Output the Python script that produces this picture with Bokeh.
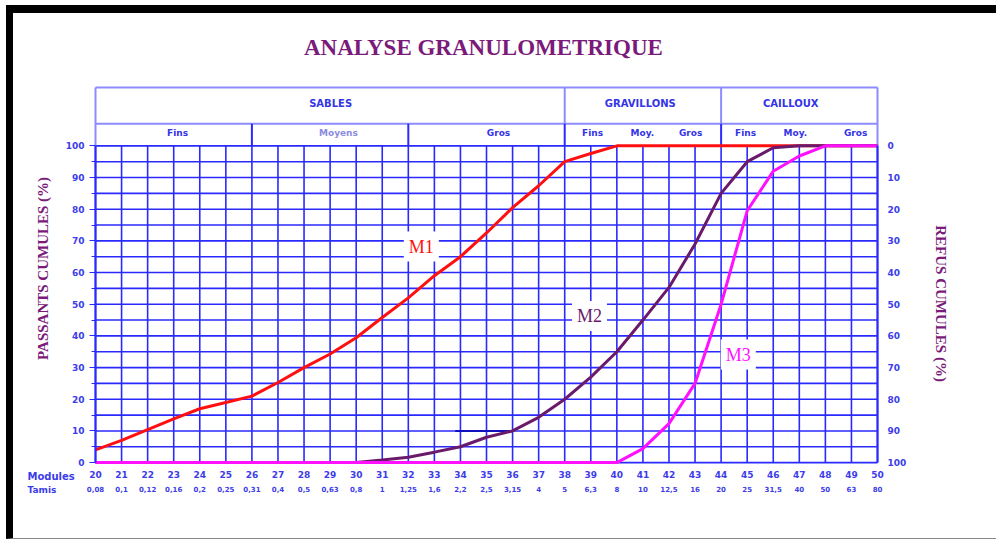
from bokeh.plotting import figure
from bokeh.models import Range1d, LinearAxis, FixedTicker, ColumnDataSource
from bokeh.core.properties import value
from bokeh.embed import file_html
from bokeh.resources import INLINE

# ---------------- data ----------------
modules = list(range(20, 51))
tamis = ["0,08", "0,1", "0,12", "0,16", "0,2", "0,25", "0,31", "0,4", "0,5", "0,63",
         "0,8", "1", "1,25", "1,6", "2,2", "2,5", "3,15", "4", "5", "6,3",
         "8", "10", "12,5", "16", "20", "25", "31,5", "40", "50", "63", "80"]
m1 = [4, 7, 10.4, 13.8, 17, 19, 21, 25.3, 30, 34.3, 39.4, 45.8, 52, 59, 65, 72.5,
      80.5, 87.4, 95, 97.6, 100, 100, 100, 100, 100, 100, 100, 100, 100, 100, 100]
m2 = [0, 0, 0, 0, 0, 0, 0, 0, 0, 0, 0, 0.8, 1.7, 3.3, 5, 8, 10, 14.3, 20, 27, 35,
      45, 55.3, 69, 85, 95, 99.4, 100, 100, 100, 100]
m3 = [0] * 21 + [4.4, 12.3, 25, 50, 79.5, 92, 96.8, 100, 100, 100]
step_x = [33.8, 35.9]
step_y = [10, 10]
curve_names = ["M1", "M2", "M3"]
curve_label_x = [32.5, 38.95, 44.66]
curve_label_y = [68.2, 46.3, 34.1]
passants_ticks = list(range(0, 101, 10))
grid_pct = list(range(0, 101, 5))

# header table
groups = ["SABLES", "GRAVILLONS", "CAILLOUX"]
group_x = [29.02, 40.9, 46.67]
sub_names = ["Fins", "Moyens", "Gros", "Fins", "Moy.", "Gros", "Fins", "Moy.", "Gros"]
sub_x = [23.15, 29.32, 35.46, 39.07, 40.98, 42.83, 44.94, 46.85, 49.16]
sub_colors = ["#3434e6", "#8c8ce0", "#3434e6", "#3434e6", "#3434e6", "#3434e6",
              "#3434e6", "#3434e6", "#3434e6"]
title_text = "ANALYSE GRANULOMETRIQUE"
left_title = "PASSANTS CUMULES (%)"
right_title = "REFUS CUMULES (%)"
row_names = ["Modules", "Tamis"]

BLUE = "#2a2aff"
LBLUE = "#8c8cff"
TXT = "#3c3cea"
PURPLE = "#7a1a7a"

X0, X1 = 16.854, 54.833
Y0, Y1 = -26.80, 141.78
W, H = 990, 534
p = figure(width=W, height=H, output_backend="svg", toolbar_location=None, title=None,
           x_range=Range1d(X0, X1), y_range=Range1d(Y0, Y1),
           min_border_left=0, min_border_right=0, min_border_top=0, min_border_bottom=0)
p.styles = {"margin-left": "6px", "margin-top": "5px",
            "border-top": "8px solid black", "border-left": "7px solid black",
            "border-bottom": "1px solid #888888"}
p.outline_line_color = None
p.background_fill_color = "white"
p.border_fill_color = "white"
p.xgrid.visible = False
p.ygrid.visible = False

def style_labels(ax, size="9px"):
    ax.major_label_text_font = "DejaVu Sans"
    ax.major_label_text_font_style = "bold"
    ax.major_label_text_font_size = size
    ax.major_label_text_color = TXT

# grid of the chart (0-100 %, modules 20-50)
p.segment(x0=modules, y0=0, x1=modules, y1=100, line_color=BLUE, line_width=1.6)
p.segment(x0=20, y0=grid_pct, x1=50, y1=grid_pct, line_color=BLUE, line_width=1.6)

# left axis
ya = p.yaxis[0]
ya.fixed_location = 20
ya.ticker = FixedTicker(ticks=passants_ticks, minor_ticks=list(range(5, 100, 10)))
ya.bounds = (0, 100)
ya.axis_line_color = BLUE
ya.axis_line_width = 2
ya.major_tick_line_color = BLUE
ya.minor_tick_line_color = BLUE
ya.major_tick_out = 6
ya.major_tick_in = 0
ya.minor_tick_out = 4
ya.minor_tick_in = 0
ya.major_label_standoff = 5
style_labels(ya)

# right axis (refus cumules = 100 - passants)
p.extra_y_ranges = {"refus": Range1d(start=100 - Y0, end=100 - Y1)}
ra = LinearAxis(y_range_name="refus", ticker=FixedTicker(ticks=passants_ticks),
                fixed_location=50)
ra.bounds = (0, 100)
ra.axis_line_color = BLUE
ra.axis_line_width = 2
ra.major_tick_out = 0
ra.major_tick_in = 0
ra.minor_tick_line_color = None
ra.major_label_standoff = 10
style_labels(ra)
p.add_layout(ra, "right")

# bottom axes: modules and tamis (bottom rule is the 0 % grid line)
xa = p.xaxis[0]
xa.fixed_location = 0
xa.ticker = FixedTicker(ticks=modules)
xa.bounds = (20, 50)
xa.axis_line_color = None
xa.major_tick_line_color = None
xa.major_tick_out = 0
xa.major_tick_in = 0
xa.minor_tick_line_color = None
xa.major_label_standoff = 8
style_labels(xa)

ta = LinearAxis(ticker=FixedTicker(ticks=modules), fixed_location=0,
                major_label_overrides={m: t for m, t in zip(modules, tamis)})
ta.bounds = (20, 50)
ta.axis_line_color = None
ta.major_tick_line_color = None
ta.minor_tick_line_color = None
ta.major_tick_out = 0
ta.major_label_standoff = 23
style_labels(ta, "7px")
p.add_layout(ta, "below")

# header table
p.multi_line(xs=[[20, 50], [20, 50], [20, 20], [38, 38], [44, 44], [50, 50]],
             ys=[[118.4, 118.4], [107, 107], [100, 118.4], [107, 118.4], [107, 118.4], [100, 118.4]],
             line_color=LBLUE, line_width=2)
p.multi_line(xs=[[26, 26], [32, 32], [38, 38], [44, 44]],
             ys=[[100, 107], [100, 107], [100, 107], [100, 107]],
             line_color=BLUE, line_width=2)
p.text(x=group_x, y=[113.4] * 3, text=groups, text_align="center", text_baseline="middle",
       text_font=value("DejaVu Sans"), text_font_style="bold", text_font_size="10px",
       text_color="#3434e6")
hsrc = ColumnDataSource(dict(x=sub_x, y=[104.2] * len(sub_x), t=sub_names, c=sub_colors))
p.text(x="x", y="y", text="t", text_color="c", source=hsrc, text_align="center",
       text_baseline="middle", text_font=value("DejaVu Sans"), text_font_style="bold",
       text_font_size="9px")

# titles
p.text(x=[34.88], y=[131], text=[title_text], text_align="center", text_baseline="middle",
       text_font=value("Liberation Serif"), text_font_style="bold", text_font_size="23px",
       text_color=PURPLE)
p.text(x=[17.97], y=[61.3], text=[left_title], angle=90, angle_units="deg",
       text_align="center", text_baseline="middle", text_font=value("Liberation Serif"),
       text_font_style="bold", text_font_size="15px", text_color=PURPLE)
p.text(x=[52.42], y=[50.2], text=[right_title], angle=-90, angle_units="deg",
       text_align="center", text_baseline="middle", text_font=value("Liberation Serif"),
       text_font_style="bold", text_font_size="15px", text_color=PURPLE)
p.text(x=[17.39], y=[-4.39], text=[row_names[0]], text_align="left",
       text_baseline="middle", text_font=value("DejaVu Sans"), text_font_style="bold",
       text_font_size="10px", text_color=TXT)
p.text(x=[17.39], y=[-8.8], text=[row_names[1]], text_align="left",
       text_baseline="middle", text_font=value("DejaVu Sans"), text_font_style="bold",
       text_font_size="9px", text_color=TXT)

# curves
p.line(step_x, step_y, line_color="#1010c0", line_width=2)
p.line(modules, m1, line_color="#ff1010", line_width=3)
p.line(modules, m2, line_color="#6a1a6a", line_width=3)
p.line(modules, m3, line_color="#ff10ff", line_width=3)

lsrc = ColumnDataSource(dict(x=curve_label_x, y=curve_label_y, t=curve_names,
                             c=["#ff1010", "#6a1a6a", "#ff10ff"]))
p.text(x="x", y="y", text="t", text_color="c", source=lsrc, text_align="center",
       text_baseline="middle", text_font=value("Liberation Serif"), text_font_size="18px",
       background_fill_color="white", padding=5)

open("out.html", "w").write(file_html(p, INLINE))
